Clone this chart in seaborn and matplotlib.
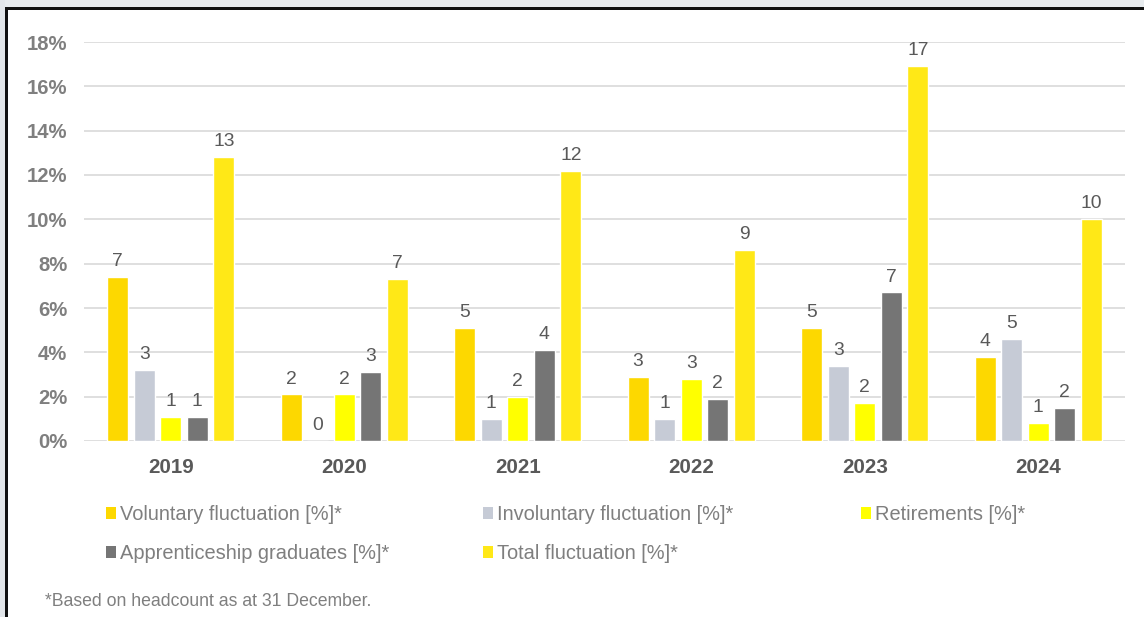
import numpy as np
import pandas as pd
import matplotlib
matplotlib.use("Agg")
import matplotlib.pyplot as plt
from matplotlib.patches import Patch, Rectangle
import seaborn as sns

years = ["2019", "2020", "2021", "2022", "2023", "2024"]
series = ["Voluntary fluctuation [%]*", "Involuntary fluctuation [%]*", "Retirements [%]*",
          "Apprenticeship graduates [%]*", "Total fluctuation [%]*"]
voluntary = [7.4, 2.1, 5.1, 2.9, 5.1, 3.8]
involuntary = [3.2, 0.0, 1.0, 1.0, 3.4, 4.6]
retirements = [1.1, 2.1, 2.0, 2.8, 1.7, 0.8]
apprentices = [1.1, 3.1, 4.1, 1.9, 6.7, 1.5]
total = [12.8, 7.3, 12.2, 8.6, 16.9, 10.0]
yticks = [0, 2, 4, 6, 8, 10, 12, 14, 16, 18]
footnote = "*Based on headcount as at 31 December."

colors = ["#FDD800", "#C6CBD6", "#FFFF00", "#757575", "#FFE817"]
palette = dict(zip(series, colors))

values = [voluntary, involuntary, retirements, apprentices, total]
rows = []
for s, vals in zip(series, values):
    for y, v in zip(years, vals):
        rows.append({"year": y, "series": s, "value": v})
df = pd.DataFrame(rows)

sns.set_style("white")
plt.rcParams["font.family"] = ["Liberation Sans", "DejaVu Sans"]

W, H = 1144, 617
fig = plt.figure(figsize=(W / 100, H / 100), dpi=100, facecolor="white")
ax = fig.add_axes([84 / W, 1 - 441 / H, (1125 - 84) / W, (441 - 42) / H])

sns.barplot(data=df, x="year", y="value", hue="series", hue_order=series,
            palette=palette, width=0.767, gap=0.21, saturation=1, legend=False,
            errorbar=None, ax=ax)

for c in ax.containers:
    ax.bar_label(c, labels=[f"{int(v + 0.5)}" for v in c.datavalues],
                 padding=5, fontsize=13.9, color="#595959")

ax.set_ylim(0, 18)
ax.set_xlim(-0.5, 5.5)
ax.set_yticks(yticks)
ax.set_yticklabels([f"{t}%" for t in yticks])
ax.set_xlabel("")
ax.set_ylabel("")
ax.yaxis.grid(True, color="#DCDCDC", linewidth=1.3)
ax.set_axisbelow(True)
for sp in ax.spines.values():
    sp.set_visible(False)
ax.tick_params(axis="y", length=0, pad=12, labelsize=14.6, labelcolor="#7F7F7F")
ax.tick_params(axis="x", length=0, pad=12, labelsize=14.8, labelcolor="#595959")
for lbl in ax.get_yticklabels() + ax.get_xticklabels():
    lbl.set_fontweight("bold")

# legends (three columns, evenly spaced)
cols = [[0, 3], [1, 4], [2]]
xs = [106, 483, 861]
for idx, x0 in zip(cols, xs):
    handles = [Patch(facecolor=colors[i], edgecolor="none") for i in idx]
    labels = [series[i] for i in idx]
    fig.legend(handles, labels, loc="upper left", bbox_to_anchor=(x0 / W, 1 - 505 / H),
               frameon=False, fontsize=14.4, labelcolor="#7F7F7F",
               handlelength=0.5, handleheight=0.5, handletextpad=0.2,
               labelspacing=1.0, borderpad=0, borderaxespad=0)

fig.text(45 / W, 1 - 602 / H, footnote, fontsize=12.7, color="#7F7F7F", va="center", ha="left")

# surrounding frame of the screenshot
fig.add_artist(Rectangle((0, 1 - 7 / H), 1, 7 / H, transform=fig.transFigure,
                         facecolor="#E7EBEE", edgecolor="none", zorder=-1))
fig.add_artist(Rectangle((0, 0), 5 / W, 1, transform=fig.transFigure,
                         facecolor="#E2E6EA", edgecolor="none", zorder=-1))
fig.add_artist(Rectangle((5 / W, 1 - 10 / H), 1, 3 / H, transform=fig.transFigure,
                         facecolor="#111111", edgecolor="none"))
fig.add_artist(Rectangle((5 / W, 0), 3 / W, 1 - 7 / H, transform=fig.transFigure,
                         facecolor="#111111", edgecolor="none"))

fig.savefig("out.png", dpi=100, facecolor="white")
